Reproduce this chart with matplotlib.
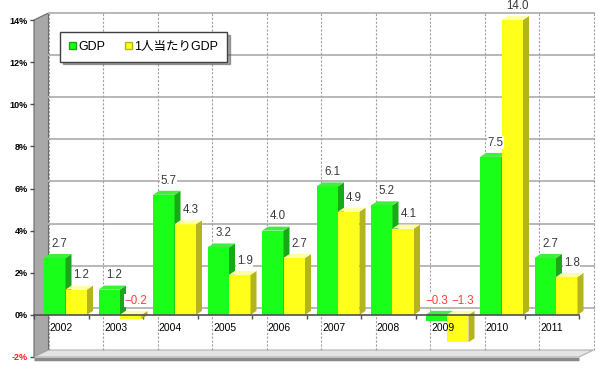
import numpy as np
import matplotlib.pyplot as plt
from matplotlib.patches import Polygon, Patch

plt.rcParams['font.family'] = ['Liberation Sans', 'Noto Sans CJK JP']

# datos
years = ['2002', '2003', '2004', '2005', '2006', '2007', '2008', '2009', '2010', '2011']
gdp = [2.7, 1.2, 5.7, 3.2, 4.0, 6.1, 5.2, -0.3, 7.5, 2.7]
gdp_pc = [1.2, -0.2, 4.3, 1.9, 2.7, 4.9, 4.1, -1.3, 14.0, 1.8]
yticks = [-2, 0, 2, 4, 6, 8, 10, 12, 14]
ytick_labels = ['-2%', '0%', '2%', '4%', '6%', '8%', '10%', '12%', '14%']
series_names = ['GDP', '1人当たりGDP']

# colores (frente, lado, arriba)
green = ('#19ff19', '#18a818', '#3cf03c')
yellow = ('#ffff19', '#b4b41e', '#ffffa8')

W, H = 598, 370
fig = plt.figure(figsize=(W / 100, H / 100), dpi=100)
ax = fig.add_axes([34 / W, 1 - 357 / H, 545 / W, 337 / H])
ax.set_xlim(-0.5, len(years) - 0.5)
ax.set_ylim(-2, 14)

# profundidad de la pared y de las barras (unidades de datos)
dx, dy = 14.5 / 54.5, 7 / 21.06
bx, by = 6 / 54.5, 4 / 21.06
n = len(years)

# pared izquierda y piso
ax.add_patch(Polygon([(-0.5, -2), (-0.5, 14), (-0.5 + dx, 14 + dy), (-0.5 + dx, -2 + dy)],
                     closed=True, facecolor='#a8a8a8', edgecolor='#6a6a6a', lw=0.8,
                     clip_on=False, zorder=1))
ax.add_patch(Polygon([(-0.5, -2), (n - 0.5, -2), (n - 0.5 + dx, -2 + dy), (-0.5 + dx, -2 + dy)],
                     closed=True, facecolor='#e4e4e4', edgecolor='#b0b0b0', lw=0.8,
                     clip_on=False, zorder=1))
ax.plot([-0.5, n - 0.5], [-2.08, -2.08], color='#8a8a8a', lw=2.5, clip_on=False,
        zorder=1, solid_capstyle='butt')

# rejilla del fondo
for t in yticks[1:]:
    ax.plot([-0.5 + dx, n - 0.5 + dx], [t + dy, t + dy], color='#b8b8b8', lw=1.4,
            clip_on=False, zorder=1)
for k in range(n + 1):
    ax.plot([k - 0.5 + dx] * 2, [-2 + dy, 14 + dy], color='#a0a0a0', lw=0.8,
            ls=(0, (2, 1.5)), clip_on=False, zorder=1)

# barras con efecto 3d
w = 21.5 / 54.5
x = np.arange(n)
left_g = x - 0.5 + 10 / 54.5
left_y = left_g + w


def barras_3d(lefts, vals, cols, z):
    ax.bar(lefts, vals, width=w, align='edge', color=cols[0], zorder=z)
    for x0, v in zip(lefts, vals):
        lo, hi = min(0, v), max(0, v)
        ax.add_patch(Polygon([(x0 + w, lo), (x0 + w + bx, lo + by), (x0 + w + bx, hi + by),
                              (x0 + w, hi)], closed=True, facecolor=cols[1], lw=0,
                             clip_on=False, zorder=z))
        ax.add_patch(Polygon([(x0, hi), (x0 + bx, hi + by), (x0 + w + bx, hi + by),
                              (x0 + w, hi)], closed=True, facecolor=cols[2], lw=0,
                             clip_on=False, zorder=z))


barras_3d(left_g, gdp, green, 3)
barras_3d(left_y, gdp_pc, yellow, 4)

# etiquetas de valores
for lefts, vals, sh in ((left_g, gdp, -1.5), (left_y, gdp_pc, 1.5)):
    for x0, v in zip(lefts, vals):
        col = '#ff3c3c' if v < 0 else '#3a3a3a'
        txt = f'{v:.1f}'.replace('-', '\u2212')
        dxl = sh if v < 0 else 1.5
        ax.annotate(txt, (x0 + w / 2 + bx / 2, max(v, 0) + by), xytext=(dxl, 3),
                    textcoords='offset points', ha='center', va='bottom', fontsize=8.3,
                    color=col, zorder=6, annotation_clip=False,
                    bbox=dict(boxstyle='square,pad=0.05', fc='white', ec='none'))

# eje x en cero
ax.spines['bottom'].set_position(('data', 0))
ax.spines['bottom'].set_color('#505050')
ax.spines['bottom'].set_linewidth(1.2)
ax.spines['bottom'].set_zorder(5)
for s in ('top', 'right', 'left'):
    ax.spines[s].set_visible(False)
ax.set_xticks(np.arange(n + 1) - 0.5)
ax.set_xticklabels([])
ax.tick_params(axis='x', direction='out', length=3, width=1, color='#505050')
for i, yr in enumerate(years):
    ax.annotate(yr, (i, 0), xytext=(0, -9.5), textcoords='offset points', ha='center',
                va='center', fontsize=7.5, color='black', zorder=6)

ax.set_yticks(yticks)
ax.set_yticklabels(ytick_labels, fontsize=6.5, fontweight='bold')
ax.tick_params(axis='y', direction='out', length=3, width=1, color='#505050', pad=1.5)
ax.get_yticklabels()[0].set_color('#ff2020')
ax.set_facecolor('none')

# leyenda
handles = [Patch(facecolor=green[0], edgecolor=green[1]),
           Patch(facecolor=yellow[0], edgecolor=yellow[1])]
leg = fig.legend(handles, series_names, loc='upper left', bbox_to_anchor=(60 / W, 1 - 32 / H),
                 borderaxespad=0, ncol=2, fontsize=9, frameon=True, fancybox=False,
                 shadow=True, handlelength=0.55, handleheight=0.55, handletextpad=0.2,
                 columnspacing=1.6, borderpad=0.7)
leg.get_frame().set_edgecolor('#404040')
leg.get_frame().set_linewidth(1)

fig.savefig('out.png', dpi=100)
